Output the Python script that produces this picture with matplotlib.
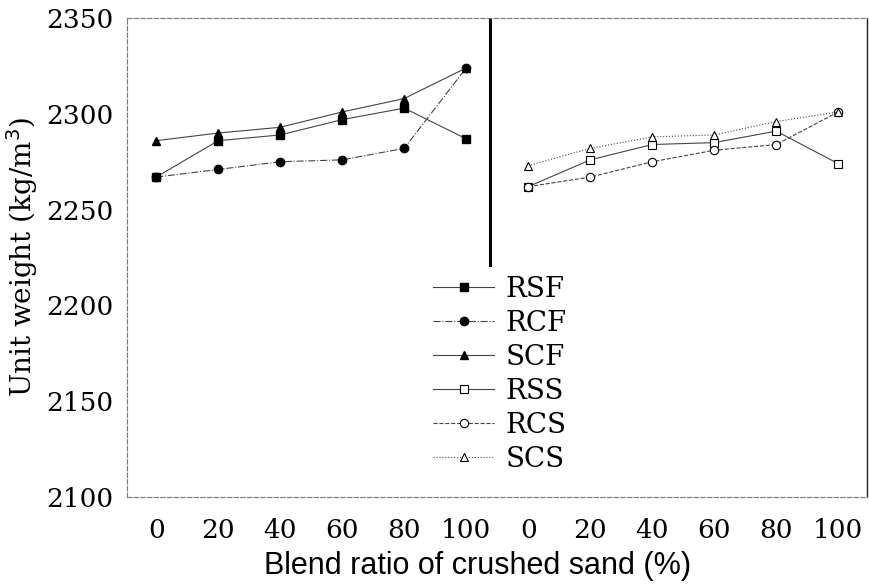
import matplotlib.pyplot as plt

# blend ratio of crushed sand (%), two groups side by side
ratios = ['0', '20', '40', '60', '80', '100']
ticklabels = ratios + ratios

# left group (filled markers)
rsf = [2267, 2286, 2289, 2297, 2303, 2287]
rcf = [2267, 2271, 2275, 2276, 2282, 2324]
scf = [2286, 2290, 2293, 2301, 2308, 2324]

# right group (open markers)
rss = [2262, 2276, 2284, 2285, 2291, 2274]
rcs = [2262, 2267, 2275, 2281, 2284, 2301]
scs = [2273, 2282, 2288, 2289, 2296, 2301]

xl = list(range(6))
xr = list(range(6, 12))

fig = plt.figure(figsize=(8.7, 5.84), dpi=100)
ax = fig.add_axes([0.146, 0.149, 0.851, 0.82])

lc = '#444444'
ax.plot(xl, rsf, color=lc, lw=0.8, ls='-', marker='s', ms=6, mfc='black', mec='black', label='RSF')
ax.plot(xl, rcf, color=lc, lw=0.8, ls='-.', marker='o', ms=6, mfc='black', mec='black', label='RCF')
ax.plot(xl, scf, color=lc, lw=0.8, ls='-', marker='^', ms=6, mfc='black', mec='black', label='SCF')
ax.plot(xr, rss, color=lc, lw=0.8, ls='-', marker='s', ms=6, mfc='white', mec='black', mew=0.8, label='RSS')
ax.plot(xr, rcs, color=lc, lw=0.8, ls='--', marker='o', ms=6, mfc='white', mec='black', mew=0.8, label='RCS')
ax.plot(xr, scs, color=lc, lw=0.8, ls=':', marker='^', ms=6, mfc='white', mec='black', mew=0.8, label='SCS')

# divider between the two groups
ax.plot([5.39, 5.39], [2221, 2350], color='black', lw=2.2)

ax.set_xlim(-0.47, 11.47)
ax.set_ylim(2100, 2350)
ax.set_yticks([2100, 2150, 2200, 2250, 2300, 2350])
ax.set_xticks(range(12))
ax.set_xticklabels(ticklabels)
ax.tick_params(length=0, labelsize=19)
for lab in ax.get_xticklabels() + ax.get_yticklabels():
    lab.set_family('DejaVu Serif')
ax.tick_params(axis='x', pad=15)
ax.tick_params(axis='y', pad=10)

for side in ['left', 'top', 'bottom']:
    ax.spines[side].set_linestyle((0, (4, 2)))
    ax.spines[side].set_color('#777777')
    ax.spines[side].set_linewidth(0.8)
ax.spines['right'].set_color('#222222')
ax.spines['right'].set_linewidth(1.0)

ax.set_ylabel('Unit weight (kg/m$^3$)', family='DejaVu Serif', fontsize=20, labelpad=4)
ax.set_xlabel('Blend ratio of crushed sand (%)', family='Liberation Sans', fontsize=22)
ax.xaxis.set_label_coords(0.474, -0.112)

ax.legend(loc='upper left', bbox_to_anchor=(0.395, 0.49), frameon=False,
          prop={'family': 'DejaVu Serif', 'size': 20}, handlelength=2.2,
          labelspacing=0.25, handletextpad=0.4, borderpad=0)

fig.savefig('out.png', dpi=100)
